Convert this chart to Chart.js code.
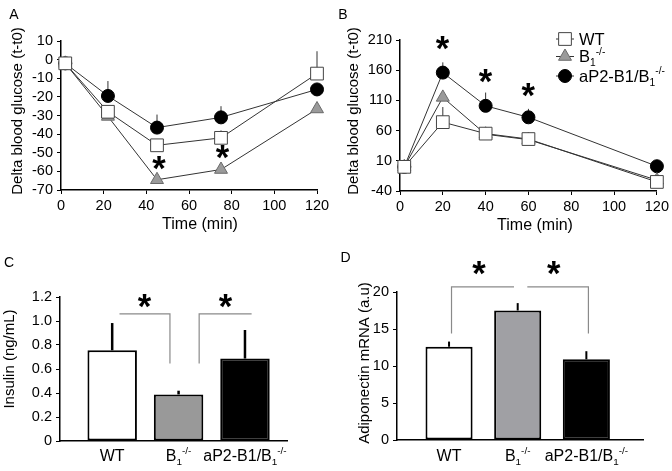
<!DOCTYPE html>
<html><head><meta charset="utf-8">
<script src="https://cdn.jsdelivr.net/npm/chart.js@4.4.1/dist/chart.umd.min.js"></script>
<style>
html,body{margin:0;padding:0;background:#fff;}
#wrap{position:relative;width:672px;height:471px;overflow:hidden;background:#fff;}
canvas{position:absolute;}
</style></head><body>
<div id="wrap">
<canvas id="cA" width="336" height="240" style="left:0;top:0"></canvas>
<canvas id="cB" width="336" height="240" style="left:336px;top:0"></canvas>
<canvas id="cC" width="336" height="231" style="left:0;top:240px"></canvas>
<canvas id="cD" width="336" height="231" style="left:336px;top:240px"></canvas>
</div>
<script>
// ---------- DATA ----------
const seriesNames = ['WT', 'B_{1}^{-/-}', 'aP2-B1/B_{1}^{-/-}'];
const categories = ['WT', 'B_{1}^{-/-}', 'aP2-B1/B_{1}^{-/-}'];

// Panel A (insulin tolerance)
const timesA = [2, 22, 45, 75, 120];
const wtA = [-2, -28, -46, -42, -7.5];
const b1A = [-2, -30.5, -64.5, -59, -26.5];
const ap2A = [-2, -19.5, -36.5, -31, -16];
const semWtA = [0, 0, 0, 4, 12];
const semB1A = [0, 0, 0, 0, 0];
const semAp2A = [0, 8, 7, 6, 0];
const yTicksA = [-70, -60, -50, -40, -30, -20, -10, 0, 10];
const xTicksAB = [0, 20, 40, 60, 80, 100, 120];
const starsA = [[46, -55.7], [75.8, -49.6]];

// Panel B (glucose tolerance)
const timesB = [2, 20, 40, 60, 120];
const wtB = [0, 74, 55, 46, -25];
const b1B = [0, 115, 54, 45, -22];
const ap2B = [0, 156, 101, 82, 1];
const semWtB = [0, 25, 0, 0, 0];
const semB1B = [0, 0, 0, 0, 0];
const semAp2B = [0, 17, 22, 14, 0];
const yTicksB = [-40, 10, 60, 110, 160, 210];
const starsB = [[20, 205], [40, 151], [60, 126.4]];

// Panel C (insulin)
const insulin = [0.756, 0.388, 0.687];
const semInsulin = [0.227, 0.031, 0.238];
const yTicksC = [0, 0.2, 0.4, 0.6, 0.8, 1.0, 1.2];
const yLabelsC = ['0', '0.2', '0.4', '0.6', '0.8', '1.0', '1.2'];
const bracketsC = [[[0.11, 1.06], [0.87, 1.06], [0.87, 0.646]], [[1.31, 0.646], [1.31, 1.06], [2.1, 1.06]]];
const starsC = [[0.49, 1.17], [1.71, 1.17]];

// Panel D (adiponectin)
const adipo = [12.6, 17.5, 10.9];
const semAdipo = [0.7, 1.0, 1.1];
const yTicksD = [0, 5, 10, 15, 20];
const bracketsD = [[[0.036, 14.4], [0.036, 20.7], [0.946, 20.7]], [[1.14, 20.7], [2.03, 20.7], [2.03, 14.4]]];
const starsD = [[0.44, 23.2], [1.53, 23.2]];

// ---------- STYLE ----------
const FONT = '"Liberation Sans", Arial, Helvetica, sans-serif';
Chart.defaults.font.family = FONT;
Chart.defaults.color = '#000';
const markerStyles = [
  {pointStyle: 'rect', radius: 9, bg: '#ffffff', border: '#444'},
  {pointStyle: 'triangle', radius: 7.5, bg: '#9a9a9a', border: '#6a6a6a'},
  {pointStyle: 'circle', radius: 6.5, bg: '#000000', border: '#000000'}
];
const barFills = ['#ffffff', '#999999', '#000000'];

// ---------- HELPERS ----------
function parseRich(s) {
  const parts = []; const re = /_\{([^}]*)\}|\^\{([^}]*)\}|([^_^]+)/g; let m;
  while ((m = re.exec(s))) {
    if (m[1] !== undefined) parts.push({t: m[1], k: 'sub'});
    else if (m[2] !== undefined) parts.push({t: m[2], k: 'sup'});
    else parts.push({t: m[3], k: 'n'});
  }
  return parts;
}
function drawRich(ctx, s, x, y, size, align) {
  const parts = parseRich(s); const small = size * 0.62; let w = 0;
  ctx.textAlign = 'left'; ctx.textBaseline = 'alphabetic'; ctx.fillStyle = '#000';
  parts.forEach(p => { ctx.font = (p.k === 'n' ? size : small) + 'px ' + FONT; p.w = ctx.measureText(p.t).width; w += p.w; });
  let cx = align === 'center' ? x - w / 2 : (align === 'right' ? x - w : x);
  parts.forEach(p => {
    ctx.font = (p.k === 'n' ? size : small) + 'px ' + FONT;
    const dy = p.k === 'sub' ? size * 0.24 : (p.k === 'sup' ? -size * 0.45 : 0);
    ctx.fillText(p.t, cx, y + dy); cx += p.w;
  });
}
function drawStar(ctx, x, y) {
  ctx.save();
  ctx.textAlign = 'left'; ctx.textBaseline = 'alphabetic'; ctx.fillStyle = '#000';
  ctx.font = 'bold 100px ' + FONT;
  let m = ctx.measureText('*');
  const size = 100 * 13.5 / (m.actualBoundingBoxRight + m.actualBoundingBoxLeft);
  ctx.font = 'bold ' + size.toFixed(2) + 'px ' + FONT;
  m = ctx.measureText('*');
  ctx.fillText('*', x - (m.actualBoundingBoxRight - m.actualBoundingBoxLeft) / 2,
               y + (m.actualBoundingBoxAscent - m.actualBoundingBoxDescent) / 2);
  ctx.restore();
}
function drawMarker(ctx, st, x, y) {
  ctx.beginPath(); const r = st.radius;
  if (st.pointStyle === 'rect') { const s = Math.SQRT1_2 * r; ctx.rect(x - s, y - s, 2 * s, 2 * s); }
  else if (st.pointStyle === 'triangle') {
    for (let a = 0; a < 3; a++) { const ang = a * 2 * Math.PI / 3; const px = x + Math.sin(ang) * r, py = y - Math.cos(ang) * r; if (a) ctx.lineTo(px, py); else ctx.moveTo(px, py); }
    ctx.closePath();
  } else ctx.arc(x, y, r, 0, 2 * Math.PI);
  ctx.fillStyle = st.bg; ctx.fill(); ctx.strokeStyle = st.border; ctx.lineWidth = 1; ctx.stroke();
}
function drawRotated(ctx, text, x, y, size) {
  ctx.save(); ctx.translate(x, y); ctx.rotate(-Math.PI / 2);
  ctx.font = size + 'px ' + FONT; ctx.textAlign = 'center'; ctx.textBaseline = 'middle'; ctx.fillStyle = '#000';
  ctx.fillText(text, 0, 0); ctx.restore();
}
function drawText(ctx, text, x, y, size, align) {
  ctx.font = size + 'px ' + FONT; ctx.textAlign = align || 'center'; ctx.textBaseline = 'middle'; ctx.fillStyle = '#000';
  ctx.fillText(text, x, y);
}

function annotPlugin(cfg) {
  return {
    id: 'annot',
    beforeDatasetsDraw(chart) {
      const ctx = chart.ctx, ys = chart.scales.y;
      ctx.save();
      chart.data.datasets.forEach((ds, k) => {
        const errs = cfg.errors && cfg.errors[k]; if (!errs) return;
        const meta = chart.getDatasetMeta(k);
        meta.data.forEach((el, i) => {
          const e = errs[i]; if (!e) return;
          const v = ds.data[i].y;
          ctx.beginPath();
          ctx.moveTo(el.x, ys.getPixelForValue(v));
          ctx.lineTo(el.x, ys.getPixelForValue(v + e));
          ctx.strokeStyle = cfg.errColor; ctx.lineWidth = cfg.errWidth; ctx.stroke();
        });
      });
      ctx.restore();
    },
    afterDraw(chart) {
      const ctx = chart.ctx, xs = chart.scales.x, ys = chart.scales.y;
      ctx.save();
      drawText(ctx, cfg.letter[0], cfg.letter[1], cfg.letter[2], 14, 'center');
      drawRotated(ctx, cfg.yTitle[0], cfg.yTitle[1], cfg.yTitle[2], cfg.yTitle[3]);
      if (cfg.xTitle) drawText(ctx, cfg.xTitle[0], cfg.xTitle[1], cfg.xTitle[2], cfg.xTitle[3], 'center');
      (cfg.brackets || []).forEach(br => {
        ctx.beginPath();
        br.forEach((p, i) => { const px = xs.getPixelForValue(p[0]), py = ys.getPixelForValue(p[1]); if (i) ctx.lineTo(px, py); else ctx.moveTo(px, py); });
        ctx.strokeStyle = '#8a8a8a'; ctx.lineWidth = 1.2; ctx.stroke();
      });
      (cfg.stars || []).forEach(s => drawStar(ctx, xs.getPixelForValue(s[0]), ys.getPixelForValue(s[1])));
      if (cfg.catLabels) {
        const ds = chart.getDatasetMeta(0);
        cfg.catLabels.forEach((lab, i) => drawRich(ctx, lab, ds.data[i].x, cfg.catY, 16, 'center'));
      }
      if (cfg.legend) {
        const L = cfg.legend;
        chart.data.datasets.forEach((ds, k) => {
          const y = L.ys[k];
          ctx.beginPath(); ctx.moveTo(L.mx - 9, y); ctx.lineTo(L.mx + 9, y);
          ctx.strokeStyle = '#333'; ctx.lineWidth = 1; ctx.stroke();
          drawMarker(ctx, markerStyles[k], L.mx, y);
          drawRich(ctx, ds.label, L.tx, y + 5.8, 16.5, 'left');
        });
      }
      ctx.restore();
    }
  };
}

function yAxis(min, max, ticksArr, labelsArr, width) {
  return {
    type: 'linear', min: min, max: max,
    afterBuildTicks: s => { s.ticks = ticksArr.map(v => ({value: v})); },
    ticks: {autoSkip: false, padding: 4, color: '#000', font: {size: 14.5},
            callback: (v, i) => labelsArr ? labelsArr[i] : v},
    grid: {drawOnChartArea: false, drawTicks: true, tickLength: 4, color: '#000', lineWidth: 1},
    border: {display: true, color: '#000', width: 1.5},
    afterFit: s => { s.width = width; }
  };
}
function xLinearAxis(height) {
  return {
    type: 'linear', min: 0, max: 120, offset: false,
    afterBuildTicks: s => { s.ticks = xTicksAB.map(v => ({value: v})); },
    ticks: {autoSkip: false, padding: 3, maxRotation: 0, color: '#000', font: {size: 14.5}},
    grid: {drawOnChartArea: false, drawTicks: true, tickLength: 4, color: '#000', lineWidth: 1},
    border: {display: true, color: '#000', width: 1.5},
    afterFit: s => { s.height = height; }
  };
}
function xBarAxis(min, max, height) {
  return {
    type: 'linear', min: min, max: max, offset: false,
    afterBuildTicks: s => { s.ticks = categories.map((c, i) => ({value: i})); },
    ticks: {display: false},
    grid: {display: false, offset: false},
    border: {display: true, color: '#000', width: 1.5},
    afterFit: s => { s.height = height; }
  };
}
function lineDatasets(times, series) {
  return series.map((vals, k) => ({
    label: seriesNames[k],
    data: times.map((t, i) => ({x: t, y: vals[i]})),
    showLine: true, borderColor: '#333', borderWidth: 1, tension: 0, fill: false, clip: false,
    pointStyle: markerStyles[k].pointStyle, pointRadius: markerStyles[k].radius,
    pointBackgroundColor: markerStyles[k].bg, pointBorderColor: markerStyles[k].border, pointBorderWidth: 1
  }));
}
const baseOpts = {responsive: false, animation: false, events: [],
  plugins: {legend: {display: false}, tooltip: {enabled: false}}};

// ---------- PANEL A ----------
new Chart(document.getElementById('cA'), {
  type: 'line',
  data: {datasets: lineDatasets(timesA, [wtA, b1A, ap2A])},
  options: Object.assign({}, baseOpts, {
    layout: {padding: {left: 0, top: 41, right: 19, bottom: 0}},
    scales: {x: xLinearAxis(50), y: yAxis(-70, 10, yTicksA, null, 61)}
  }),
  plugins: [annotPlugin({letter: ['A', 14, 15], yTitle: ['Delta blood glucose (t-t0)', 18, 111, 15],
    xTitle: ['Time (min)', 200, 225, 16], stars: starsA, errors: [semWtA, semB1A, semAp2A], errColor: '#333', errWidth: 1})]
});

// ---------- PANEL B ----------
new Chart(document.getElementById('cB'), {
  type: 'line',
  data: {datasets: lineDatasets(timesB, [wtB, b1B, ap2B])},
  options: Object.assign({}, baseOpts, {
    layout: {padding: {left: 0, top: 40, right: 15, bottom: 0}},
    scales: {x: xLinearAxis(49), y: yAxis(-40, 210, yTicksB, null, 64)}
  }),
  plugins: [annotPlugin({letter: ['B', 7, 15], yTitle: ['Delta blood glucose (t-t0)', 18, 111, 15],
    xTitle: ['Time (min)', 199, 226, 16], stars: starsB, errors: [semWtB, semB1B, semAp2B], errColor: '#333', errWidth: 1,
    legend: {mx: 229, tx: 243, ys: [39, 56.5, 76]}})]
});

// ---------- PANEL C ----------
new Chart(document.getElementById('cC'), {
  type: 'bar',
  data: {datasets: [{label: 'Insulin', data: categories.map((c, i) => ({x: i, y: insulin[i]})),
    backgroundColor: barFills, borderColor: '#000', borderWidth: 2, borderSkipped: false,
    categoryPercentage: 1, barPercentage: 0.745}]},
  options: Object.assign({}, baseOpts, {
    layout: {padding: {left: 0, top: 57, right: 49, bottom: 0}},
    scales: {x: xBarAxis(-0.786, 2.633, 30), y: yAxis(0, 1.2, yTicksC, yLabelsC, 60)}
  }),
  plugins: [annotPlugin({letter: ['C', 9, 23.5], yTitle: ['Insulin (ng/mL)', 10, 119, 15],
    stars: starsC, brackets: bracketsC, catLabels: categories, catY: 221,
    errors: [semInsulin], errColor: '#000', errWidth: 2.5})]
});

// ---------- PANEL D ----------
new Chart(document.getElementById('cD'), {
  type: 'bar',
  data: {datasets: [{label: 'Adiponectin', data: categories.map((c, i) => ({x: i, y: adipo[i]})),
    backgroundColor: ['#ffffff', '#a0a0a4', '#000000'], borderColor: '#000', borderWidth: 2, borderSkipped: false,
    categoryPercentage: 1, barPercentage: 0.686}]},
  options: Object.assign({}, baseOpts, {
    layout: {padding: {left: 0, top: 52, right: 29, bottom: 0}},
    scales: {x: xBarAxis(-0.758, 2.825, 31), y: yAxis(0, 20, yTicksD, null, 61)}
  }),
  plugins: [annotPlugin({letter: ['D', 9.5, 18], yTitle: ['Adiponectin mRNA (a.u)', 29, 123, 15],
    stars: starsD, brackets: bracketsD, catLabels: categories, catY: 221,
    errors: [semAdipo], errColor: '#000', errWidth: 2})]
});
</script>
</body></html>
